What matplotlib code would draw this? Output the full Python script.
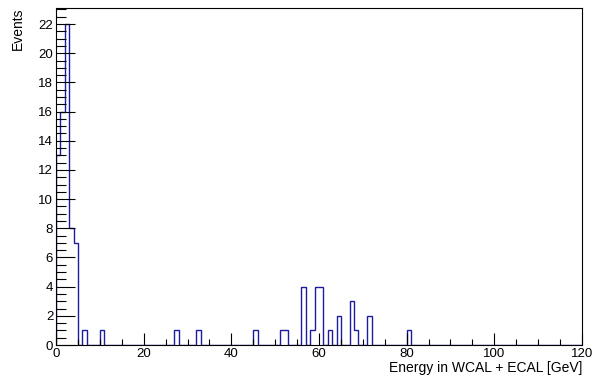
import numpy as np
import matplotlib.pyplot as plt
from matplotlib.ticker import MultipleLocator

# bin low edge (GeV) and entries, 1 GeV bins from 0 to 120
bin_low = [0, 1, 2, 3, 4, 6, 10, 27, 32, 45, 51, 52, 56, 58, 59, 60, 62, 64, 67, 68, 71, 80]
counts = [13, 16, 22, 8, 7, 1, 1, 1, 1, 1, 1, 1, 4, 1, 4, 4, 1, 2, 3, 1, 2, 1]

edges = np.arange(0, 121, 1)
h = np.zeros(120)
for b, c in zip(bin_low, counts):
    h[b] = c

plt.rcParams['font.family'] = ['Liberation Sans', 'DejaVu Sans']

fig = plt.figure(figsize=(5.94, 3.81), dpi=100)
ax = fig.add_axes([56/594, 1-345/381, (582-56)/594, (345-8)/381])

ax.stairs(h, edges, color='#1c1ca0', linewidth=1.0, baseline=0)

ax.set_xlim(0, 120)
ax.set_ylim(0, h.max()*1.05)

ax.xaxis.set_major_locator(MultipleLocator(20))
ax.xaxis.set_minor_locator(MultipleLocator(5))
ax.yaxis.set_major_locator(MultipleLocator(2))
ax.yaxis.set_minor_locator(MultipleLocator(0.5))

ax.tick_params(which='both', direction='in', top=False, right=False, labelsize=9.5, width=0.8)
ax.tick_params(axis='x', which='major', length=9, pad=2)
ax.tick_params(axis='x', which='minor', length=4.5)
ax.tick_params(axis='y', which='major', length=14, pad=2)
ax.tick_params(axis='y', which='minor', length=7)

for s in ax.spines.values():
    s.set_linewidth(0.8)

ax.set_xlabel("Energy in WCAL + ECAL [GeV]", fontsize=10, loc='right', labelpad=1)
ax.set_ylabel("Events", fontsize=10, loc='top', labelpad=10)

fig.savefig("out.png", dpi=100)
